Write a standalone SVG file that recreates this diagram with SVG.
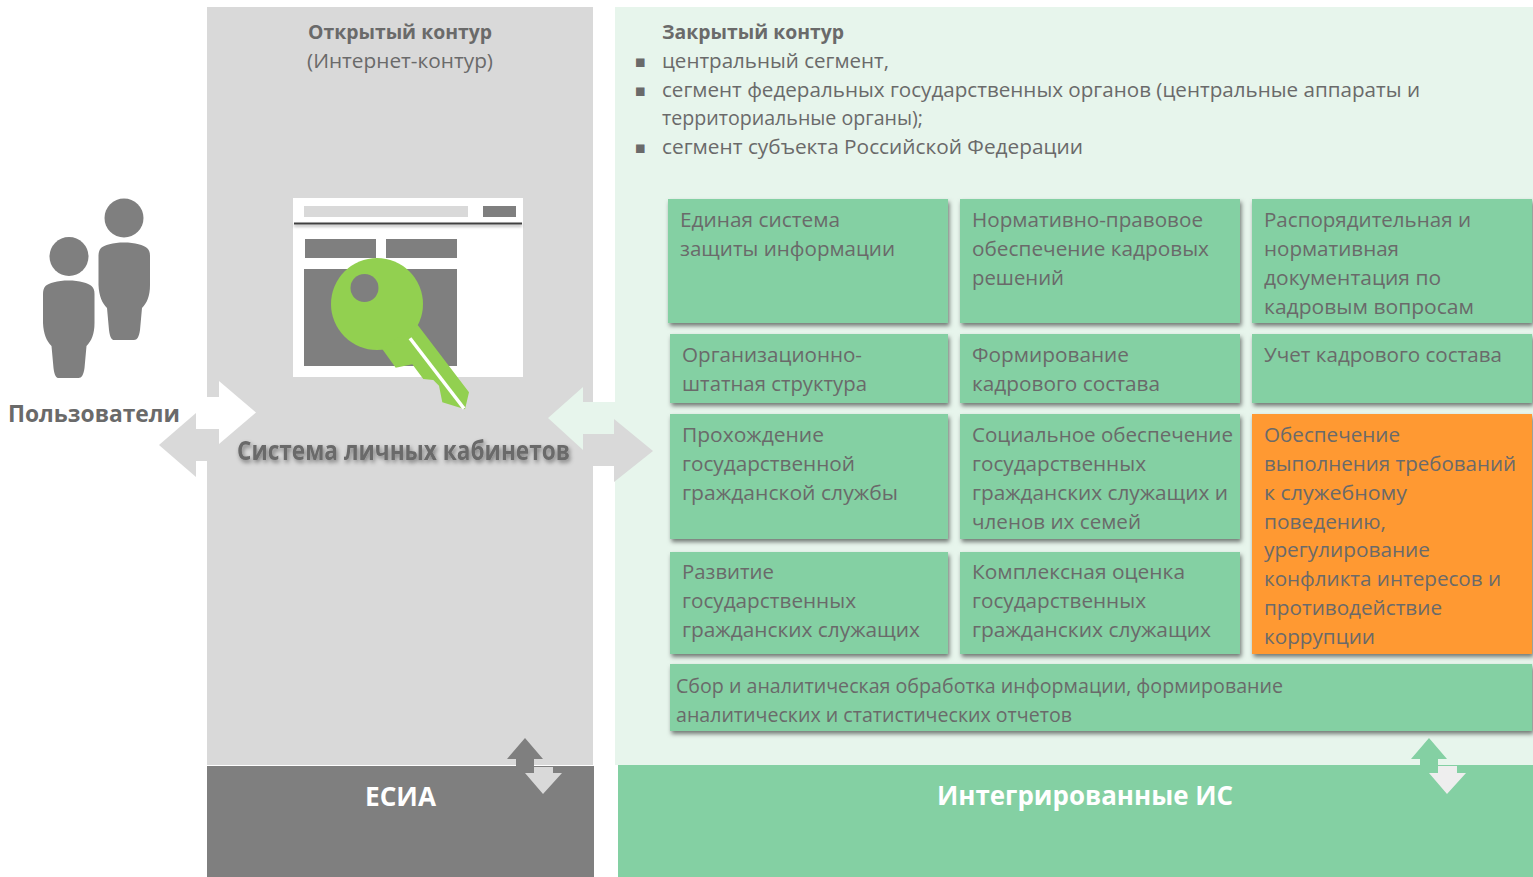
<svg xmlns="http://www.w3.org/2000/svg" width="1533" height="877" viewBox="0 0 1533 877">
<style>
text{font-family:"Open Sans","Noto Sans","DejaVu Sans",sans-serif;fill:#6a6a6a;font-size:20px;transform:translateY(-1px)}
.b{font-weight:700}
.k{transform:none}
.w{fill:#fff;font-weight:700;font-size:27px;transform:none}
.m{font-family:"DejaVu Sans",sans-serif;font-size:17px;transform:translateY(-2px)}
.g{fill:#84d0a3}
.o{fill:#ff9933}
.box{filter:url(#sh)}
.d{fill:#7f7f7f}
.l{fill:#d9d9d9}
</style>
<defs>
<filter id="sh" x="-5%" y="-10%" width="110%" height="130%"><feDropShadow dx="1.5" dy="3" stdDeviation="2" flood-color="#000" flood-opacity=".5"/></filter>
<filter id="ts" x="-5%" y="-30%" width="110%" height="170%"><feDropShadow dx="1.5" dy="2.5" stdDeviation="2" flood-color="#000" flood-opacity=".45"/></filter>
<filter id="ln" filterUnits="userSpaceOnUse" x="285" y="215" width="245" height="25"><feDropShadow dx="0" dy="2" stdDeviation="1.5" flood-color="#000" flood-opacity=".35"/></filter>
<path id="person" d="M124,242.5C113,242.5 104,245 101,248C99,250 98.5,253 98.5,256L98.5,285C99,296 102,303 107,308L109,330C110,338 112,340 114,340L134,340C137,340 139,337 140,330L142,308C147,303 150,296 150,285L150,256C150,252 149,250 147,248C144,245 135,242.5 124,242.5Z"/>
</defs>
<g id="open-contour">
<rect x="207" y="7" width="386" height="758" fill="#d9d9d9"/>
<text class="b" x="308" y="40" textLength="184" lengthAdjust="spacingAndGlyphs">Открытый контур</text>
<text x="307" y="69" textLength="186" lengthAdjust="spacingAndGlyphs">(Интернет-контур)</text>
</g>
<g id="closed-contour">
<rect x="615" y="7" width="918" height="758" fill="#e7f5ec"/>
<text class="b" x="662" y="40" textLength="182" lengthAdjust="spacingAndGlyphs">Закрытый контур</text>
<text class="m" x="634.5" y="69">▪</text>
<text x="662" y="69" textLength="227" lengthAdjust="spacingAndGlyphs">центральный сегмент,</text>
<text class="m" x="634.5" y="98">▪</text>
<text x="662" y="98" textLength="758" lengthAdjust="spacingAndGlyphs">сегмент федеральных государственных органов (центральные аппараты и</text>
<text x="662" y="126" textLength="261" lengthAdjust="spacingAndGlyphs">территориальные органы);</text>
<text class="m" x="634.5" y="155">▪</text>
<text x="662" y="155" textLength="421" lengthAdjust="spacingAndGlyphs">сегмент субъекта Российской Федерации</text>
</g>
<g id="users">
<circle class="d" cx="124" cy="218" r="19.5"/><use href="#person" class="d"/>
<circle class="d" cx="69" cy="256.5" r="19.5"/><use href="#person" class="d" x="-55.5" y="38"/>
<text class="b k" x="8" y="422" style="font-size:24px" textLength="172" lengthAdjust="spacingAndGlyphs">Пользователи</text>
</g>
<g id="connectors">
<polygon fill="#fff" points="207,397 219,397 219,381 256,412.5 219,444 219,429 207,429"/>
<polygon fill="#d9d9d9" points="207,429 196,429 196,413 159,445 196,477 196,461 207,461"/>
<polygon fill="#e7f5ec" points="615,402 583,402 583,387 548,418 583,450 583,434 615,434"/>
<polygon fill="#d9d9d9" points="593,434 614,434 614,419 653,451 614,482 614,466 593,466"/>
</g>
<g id="cabinet">
<rect x="293" y="198" width="230" height="179" fill="#fff"/>
<rect class="l" x="304" y="206" width="164" height="11"/>
<rect class="d" x="483" y="206" width="33" height="11"/>
<rect x="294" y="222.5" width="228" height="2" fill="#404040" filter="url(#ln)"/>
<rect class="d" x="305" y="239" width="71" height="19"/>
<rect class="d" x="386" y="239" width="71" height="19"/>
<rect class="d" x="304" y="269" width="153" height="97"/>
<circle cx="377" cy="304" r="46" fill="#92d050"/>
<polygon fill="#92d050" points="417.7,325 469,392.3 465,409.3 442.3,402.3 439,385.7 433.3,380 423.3,379 412.3,364.3 395.7,367.7 381.7,348.3"/>
<circle class="d" cx="364.5" cy="288" r="14"/>
<line x1="410" y1="338.3" x2="464" y2="408.5" stroke="#fff" stroke-width="3.5"/>
<text class="b k" x="237" y="460" style="font-size:26px" filter="url(#ts)" textLength="333" lengthAdjust="spacingAndGlyphs">Система личных кабинетов</text>
</g>
<g id="esia">
<rect class="d" x="207" y="766" width="387" height="111"/>
<text class="w" x="365" y="806" textLength="71" lengthAdjust="spacingAndGlyphs">ЕСИА</text>
</g>
<g id="integrated">
<rect class="g" x="618" y="765" width="915" height="112"/>
<text class="w" x="937" y="805" textLength="296" lengthAdjust="spacingAndGlyphs">Интегрированные ИС</text>
</g>
<g id="connectors-vertical">
<polygon class="d" points="525,738 543,759 534,759 534,775 516,775 516,759 507,759"/>
<polygon class="l" points="534,767 553,767 553,773 562,773 543,794 525,773 534,773"/>
<polygon class="g" points="1429,738 1447,759 1438,759 1438,775 1420,775 1420,759 1411,759"/>
<polygon fill="#eeeeee" points="1438,766 1457,766 1457,773 1466,773 1447,794 1429,773 1438,773"/>
</g>
<g id="n1"><rect class="g box" x="668" y="199" width="280" height="124"/>
<text x="680" y="228" textLength="160" lengthAdjust="spacingAndGlyphs">Единая система</text>
<text x="680" y="257" textLength="215" lengthAdjust="spacingAndGlyphs">защиты информации</text></g>
<g id="n2"><rect class="g box" x="960" y="199" width="280" height="124"/>
<text x="972" y="228" textLength="231" lengthAdjust="spacingAndGlyphs">Нормативно-правовое</text>
<text x="972" y="257" textLength="237" lengthAdjust="spacingAndGlyphs">обеспечение кадровых</text>
<text x="972" y="286" textLength="92" lengthAdjust="spacingAndGlyphs">решений</text></g>
<g id="n3"><rect class="g box" x="1252" y="199" width="280" height="124"/>
<text x="1264" y="228" textLength="207" lengthAdjust="spacingAndGlyphs">Распорядительная и</text>
<text x="1264" y="257" textLength="135" lengthAdjust="spacingAndGlyphs">нормативная</text>
<text x="1264" y="286" textLength="177" lengthAdjust="spacingAndGlyphs">документация по</text>
<text x="1264" y="315" textLength="210" lengthAdjust="spacingAndGlyphs">кадровым вопросам</text></g>
<g id="n4"><rect class="g box" x="670" y="334" width="278" height="69"/>
<text x="682" y="363" textLength="180" lengthAdjust="spacingAndGlyphs">Организационно-</text>
<text x="682" y="392" textLength="185" lengthAdjust="spacingAndGlyphs">штатная структура</text></g>
<g id="n5"><rect class="g box" x="960" y="334" width="280" height="69"/>
<text x="972" y="363" textLength="157" lengthAdjust="spacingAndGlyphs">Формирование</text>
<text x="972" y="392" textLength="188" lengthAdjust="spacingAndGlyphs">кадрового состава</text></g>
<g id="n6"><rect class="g box" x="1252" y="334" width="280" height="69"/>
<text x="1264" y="363" textLength="238" lengthAdjust="spacingAndGlyphs">Учет кадрового состава</text></g>
<g id="n7"><rect class="g box" x="670" y="414" width="278" height="125"/>
<text x="682" y="443" textLength="142" lengthAdjust="spacingAndGlyphs">Прохождение</text>
<text x="682" y="472" textLength="173" lengthAdjust="spacingAndGlyphs">государственной</text>
<text x="682" y="501" textLength="216" lengthAdjust="spacingAndGlyphs">гражданской службы</text></g>
<g id="n8"><rect class="g box" x="960" y="414" width="280" height="125"/>
<text x="972" y="443" textLength="261" lengthAdjust="spacingAndGlyphs">Социальное обеспечение</text>
<text x="972" y="472" textLength="174" lengthAdjust="spacingAndGlyphs">государственных</text>
<text x="972" y="501" textLength="256" lengthAdjust="spacingAndGlyphs">гражданских служащих и</text>
<text x="972" y="530" textLength="169" lengthAdjust="spacingAndGlyphs">членов их семей</text></g>
<g id="n9"><rect class="o box" x="1252" y="414" width="280" height="240"/>
<text x="1264" y="443" textLength="136" lengthAdjust="spacingAndGlyphs">Обеспечение</text>
<text x="1264" y="472" textLength="252" lengthAdjust="spacingAndGlyphs">выполнения требований</text>
<text x="1264" y="501" textLength="143" lengthAdjust="spacingAndGlyphs">к служебному</text>
<text x="1264" y="530" textLength="122" lengthAdjust="spacingAndGlyphs">поведению,</text>
<text x="1264" y="558" textLength="166" lengthAdjust="spacingAndGlyphs">урегулирование</text>
<text x="1264" y="587" textLength="237" lengthAdjust="spacingAndGlyphs">конфликта интересов и</text>
<text x="1264" y="616" textLength="178" lengthAdjust="spacingAndGlyphs">противодействие</text>
<text x="1264" y="645" textLength="111" lengthAdjust="spacingAndGlyphs">коррупции</text></g>
<g id="n10"><rect class="g box" x="670" y="552" width="278" height="102"/>
<text x="682" y="580" textLength="92" lengthAdjust="spacingAndGlyphs">Развитие</text>
<text x="682" y="609" textLength="174" lengthAdjust="spacingAndGlyphs">государственных</text>
<text x="682" y="638" textLength="238" lengthAdjust="spacingAndGlyphs">гражданских служащих</text></g>
<g id="n11"><rect class="g box" x="960" y="552" width="280" height="102"/>
<text x="972" y="580" textLength="213" lengthAdjust="spacingAndGlyphs">Комплексная оценка</text>
<text x="972" y="609" textLength="174" lengthAdjust="spacingAndGlyphs">государственных</text>
<text x="972" y="638" textLength="239" lengthAdjust="spacingAndGlyphs">гражданских служащих</text></g>
<g id="n12"><rect class="g box" x="670" y="664" width="862" height="67"/>
<text x="676" y="694" textLength="607" lengthAdjust="spacingAndGlyphs">Сбор и аналитическая обработка информации, формирование</text>
<text x="676" y="723" textLength="396" lengthAdjust="spacingAndGlyphs">аналитических и статистических отчетов</text></g>
</svg>
